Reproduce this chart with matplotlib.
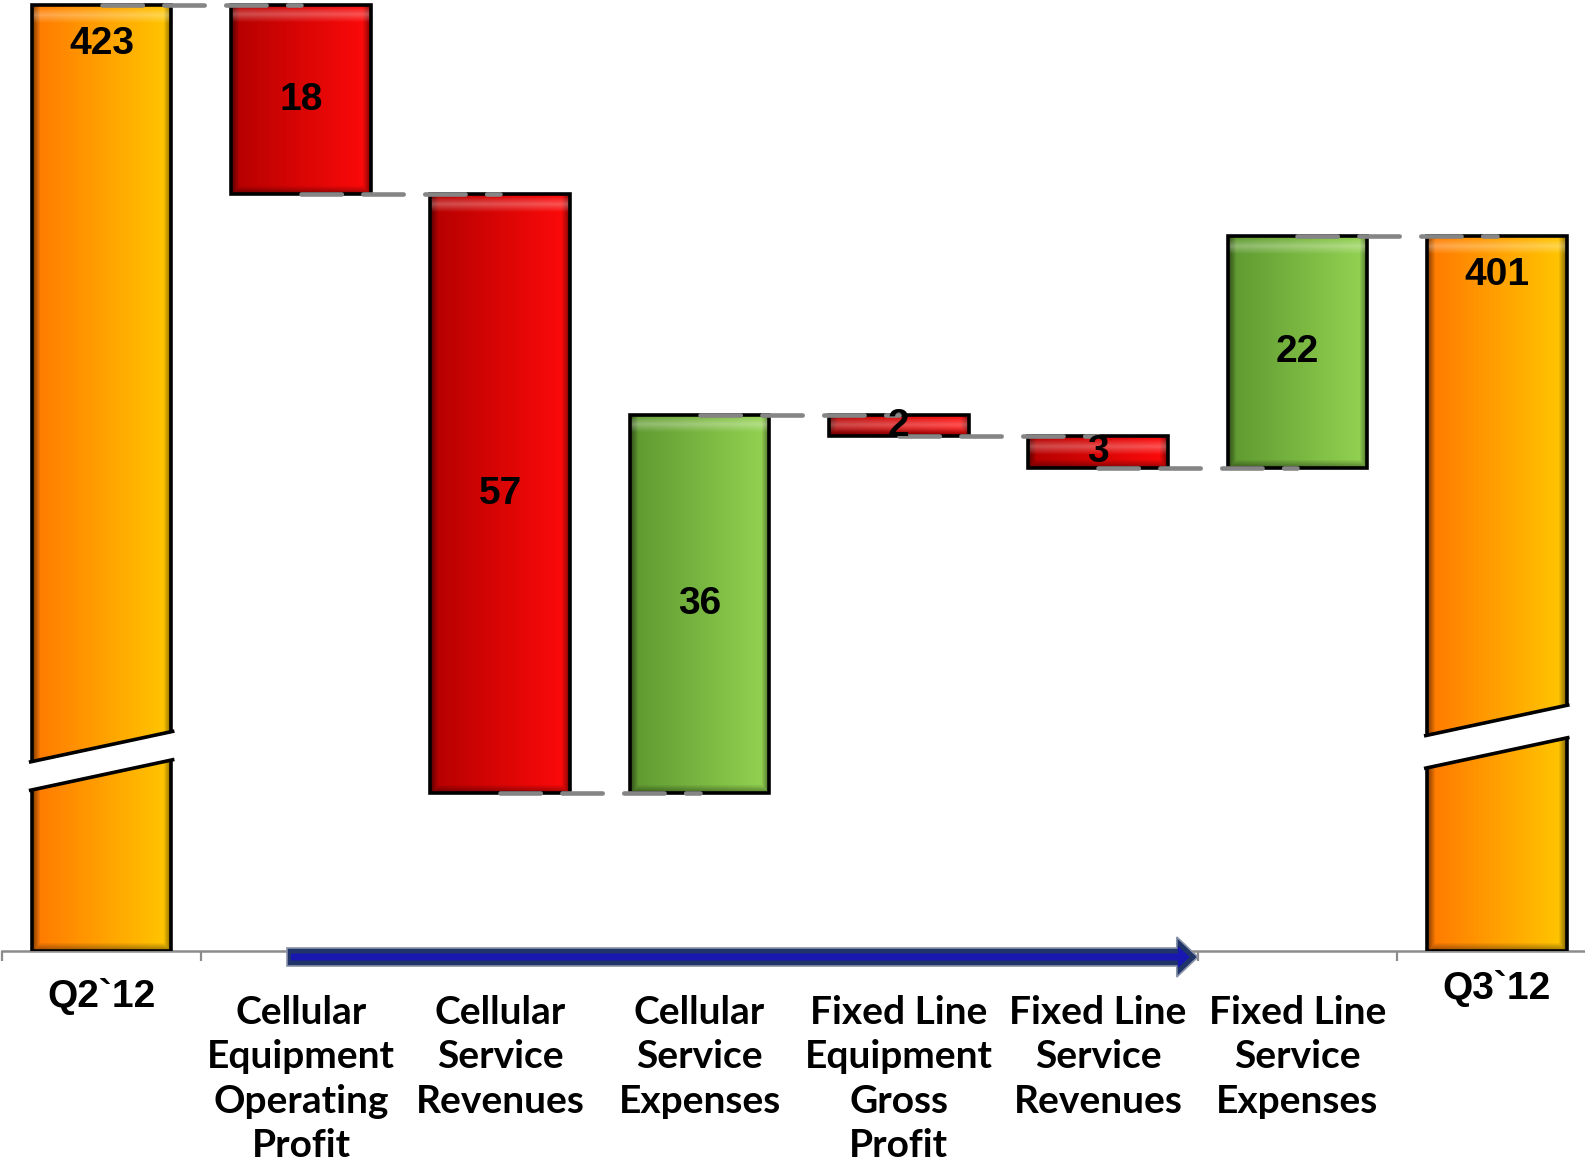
import numpy as np
import matplotlib
matplotlib.use("Agg")
import matplotlib.pyplot as plt
from matplotlib.patches import Rectangle, Polygon, FancyArrow
from matplotlib.colors import to_rgb

# waterfall data: opening total, changes, closing total
categories = ['Q2`12',
              'Cellular\nEquipment\nOperating\nProfit',
              'Cellular\nService\nRevenues',
              'Cellular\nService\nExpenses',
              'Fixed Line\nEquipment\nGross\nProfit',
              'Fixed Line\nService\nRevenues',
              'Fixed Line\nService\nExpenses',
              'Q3`12']
start_total = 423
changes = [-18, -57, 36, -2, -3, 22]
end_total = 401
axis_floor = 333   # the value axis is cut, bars start here
axis_top = 423.5

W, H, DPI = 1585, 1165, 100
fig = plt.figure(figsize=(W / DPI, H / DPI), dpi=DPI)
ax_left, ax_bottom = 2 / W, (H - 951) / H
ax_w, ax_h = 8 * 199.3 / W, 951 / H
ax = fig.add_axes([ax_left, ax_bottom, ax_w, ax_h])

px_x = W * ax_w / 8
px_y = H * ax_h / (axis_top - axis_floor)

ORANGE = ('#FF7800', '#FFC800')
RED = ('#B40000', '#FF0A0A')
GREEN = ('#5E9830', '#94D452')
bar_w = 0.70


def bevel_image(cl, cr, w_px, h_px, edge=8):
    nx, ny = max(int(w_px), 4), max(int(h_px), 4)
    t = np.linspace(0, 1, nx)
    cl, cr = np.array(to_rgb(cl)), np.array(to_rgb(cr))
    base = np.outer(1 - t, cl) + np.outer(t, cr)
    img = np.repeat(base[None, :, :], ny, axis=0)
    xs, ys = np.arange(nx), np.arange(ny)
    dl = np.clip(1 - xs / edge, 0, 1)
    dr = np.clip(1 - (nx - 1 - xs) / edge, 0, 1)
    dt = np.clip(1 - np.abs(ys - edge * 1.2) / edge, 0, 1)
    db = np.clip(1 - (ny - 1 - ys) / edge, 0, 1)
    dark = np.maximum(np.maximum(dl, dr)[None, :], 0.8 * db[:, None])
    img = img * (1 - 0.5 * dark[..., None])
    img = img + (1 - img) * 0.3 * dt[:, None, None]
    return np.clip(img, 0, 1)


def draw_bar(x, lo, hi, colors):
    img = bevel_image(colors[0], colors[1], bar_w * px_x, (hi - lo) * px_y)
    ax.imshow(img, extent=(x - bar_w / 2, x + bar_w / 2, lo, hi),
              aspect='auto', origin='upper', interpolation='bilinear', zorder=2)
    ax.add_patch(Rectangle((x - bar_w / 2, lo), bar_w, hi - lo, fill=False,
                           edgecolor='black', lw=2.6, zorder=3))


label_font = dict(family='Liberation Sans', weight='bold', size=28, color='black')

# opening total
draw_bar(0, axis_floor, start_total, ORANGE)
ax.text(0, start_total - 3.7, str(start_total), ha='center', va='center', zorder=6, **label_font)

levels = [start_total]
run = start_total
for i, c in enumerate(changes, start=1):
    lo, hi = min(run, run + c), max(run, run + c)
    draw_bar(i, lo, hi, GREEN if c > 0 else RED)
    ax.text(i, (lo + hi) / 2, str(abs(c)), ha='center', va='center', zorder=6, **label_font)
    run += c
    levels.append(run)

# closing total
n = len(categories) - 1
draw_bar(n, axis_floor, end_total, ORANGE)
ax.text(n, end_total - 3.7, str(end_total), ha='center', va='center', zorder=6, **label_font)

# dashed connectors between neighbouring bars
for i, lev in enumerate(levels):
    ax.plot([i, i + 1], [lev, lev], color='#858585', lw=3.3,
            linestyle=(0, (8.8, 4.7)), solid_capstyle='round',
            dash_capstyle='round', zorder=5)

# axis-break marks on the total bars
slope = (30 / px_y) / (140 / px_x)
for x, yc, th in [(0, 351.1, 2.7), (n, 353.4, 3.1)]:
    hw = 0.365
    y_l, y_r = yc - slope * hw, yc + slope * hw
    ax.add_patch(Polygon([(x - hw, y_l - th / 2), (x + hw, y_r - th / 2),
                          (x + hw, y_r + th / 2), (x - hw, y_l + th / 2)],
                         closed=True, facecolor='white', edgecolor='none',
                         zorder=4, clip_on=False))
    for s in (-1, 1):
        ax.plot([x - hw, x + hw], [y_l + s * th / 2, y_r + s * th / 2],
                color='black', lw=2.6, solid_capstyle='butt', zorder=4, clip_on=False)

# progress arrow under the change bars
ay = axis_floor - 6 / px_y
ax.add_patch(FancyArrow(0.93, ay, 5.5 - 0.93, 0, width=18 / px_y, head_width=40 / px_y,
                        head_length=21 / px_x, length_includes_head=True,
                        facecolor='#1F3468', edgecolor='#8A94A8', lw=1.2,
                        zorder=7, clip_on=False))
ax.add_patch(FancyArrow(0.95, ay, 5.5 - 0.95 - 8 / px_x, 0, width=7 / px_y, head_width=22 / px_y,
                        head_length=12 / px_x, length_includes_head=True,
                        facecolor='#1818B0', edgecolor='none', zorder=8, clip_on=False))

ax.set_xlim(-0.5, 7.5)
ax.set_ylim(axis_floor, axis_top)
for side in ('left', 'right', 'top'):
    ax.spines[side].set_visible(False)
ax.spines['bottom'].set_color('#8C8C8C')
ax.spines['bottom'].set_linewidth(1.8)
ax.set_yticks([])
ax.set_xticks([])
ax.set_xticks(np.arange(-0.5, 8.0, 1.0), minor=True)
ax.tick_params(axis='x', which='minor', direction='out', length=7.5, width=1.6,
               color='#8C8C8C', labelbottom=False)

# category labels
for i, name in enumerate(categories):
    if name.startswith('Q'):
        off = 33 if i == 0 else 27
        ax.annotate(name, xy=(i, axis_floor), xytext=(0, -off), textcoords='offset points',
                    ha='center', va='center', annotation_clip=False, **label_font)
    else:
        ax.annotate(name, xy=(i, axis_floor), xytext=(0, -31.5), textcoords='offset points',
                    ha='center', va='top', family='Lato', weight='bold', size=28,
                    linespacing=1.33, annotation_clip=False)

fig.savefig('out.png', dpi=DPI)
